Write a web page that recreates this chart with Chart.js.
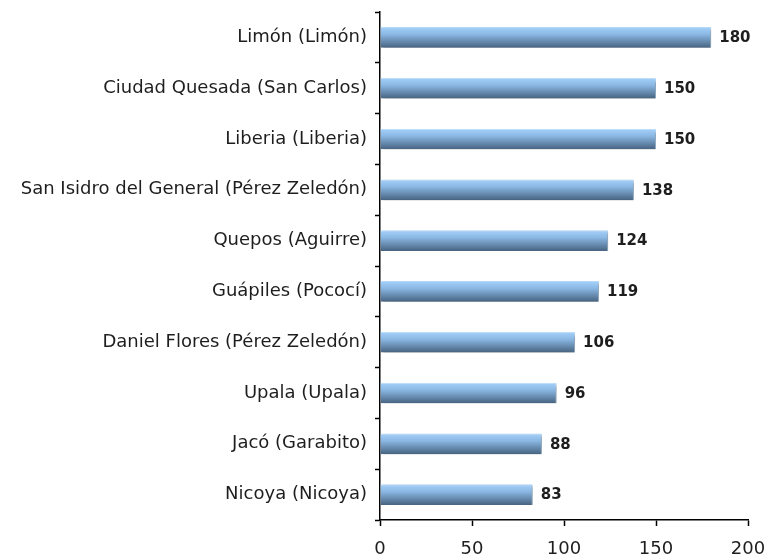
<!DOCTYPE html>
<html>
<head>
<meta charset="utf-8">
<script src="https://cdn.jsdelivr.net/npm/chart.js@4/dist/chart.umd.min.js"></script>
<style>
  html, body { margin: 0; padding: 0; background: #fff; }
  #wrap { width: 769px; height: 560px; }
</style>
</head>
<body>
<div id="wrap"><canvas id="chart"></canvas></div>
<script>
const places = [
  'Limón (Limón)',
  'Ciudad Quesada (San Carlos)',
  'Liberia (Liberia)',
  'San Isidro del General (Pérez Zeledón)',
  'Quepos (Aguirre)',
  'Guápiles (Pococí)',
  'Daniel Flores (Pérez Zeledón)',
  'Upala (Upala)',
  'Jacó (Garabito)',
  'Nicoya (Nicoya)'
];
const counts = [180, 150, 150, 138, 124, 119, 106, 96, 88, 83];
const xTicks = [0, 50, 100, 150, 200];

const FONT = '"DejaVu Sans", Verdana, sans-serif';

// vertical gradient per bar: light on top, dark at the bottom
function barGradient(context) {
  const chart = context.chart;
  const yScale = chart.scales.y;
  if (!chart.chartArea || !yScale) return '#6f9ccc';
  const el = context.element;
  const half = el && el.height ? el.height / 2 : 10.5;
  const cy = yScale.getPixelForValue(context.dataIndex);
  const g = chart.ctx.createLinearGradient(0, cy - half, 0, cy + half);
  g.addColorStop(0, '#a6d2fb');
  g.addColorStop(0.35, '#8bb8e4');
  g.addColorStop(1, '#46627f');
  return g;
}

const barShadow = {
  id: 'barShadow',
  beforeDatasetsDraw(chart) {
    const ctx = chart.ctx;
    ctx.save();
    ctx.shadowColor = 'rgba(0,0,0,0.35)';
    ctx.shadowBlur = 3;
    ctx.shadowOffsetX = 2;
    ctx.shadowOffsetY = 2;
  },
  afterDatasetsDraw(chart) {
    chart.ctx.restore();
  }
};

const valueLabels = {
  id: 'valueLabels',
  afterDraw(chart) {
    const ctx = chart.ctx;
    const meta = chart.getDatasetMeta(0);
    ctx.save();
    ctx.font = 'bold 15px ' + FONT;
    ctx.fillStyle = '#1e1e1e';
    ctx.textAlign = 'left';
    ctx.textBaseline = 'middle';
    meta.data.forEach((bar, i) => {
      ctx.fillText(String(counts[i]), bar.x + 8, bar.y + 1);
    });
    ctx.restore();
  }
};

new Chart(document.getElementById('chart'), {
  type: 'bar',
  data: {
    labels: places,
    datasets: [{
      data: counts,
      backgroundColor: barGradient,
      borderColor: '#b9dcfb',
      borderWidth: { top: 1, right: 1, bottom: 0, left: 0 },
      categoryPercentage: 0.51,
      barPercentage: 0.8
    }]
  },
  options: {
    indexAxis: 'y',
    responsive: true,
    maintainAspectRatio: false,
    animation: false,
    layout: { padding: { top: 12, right: 21, bottom: 0, left: 0 } },
    plugins: {
      legend: { display: false },
      tooltip: { enabled: false }
    },
    scales: {
      x: {
        min: 0,
        max: 200,
        afterBuildTicks(scale) {
          scale.ticks = xTicks.map(v => ({ value: v }));
        },
        afterFit(scale) {
          scale.height = 40;
          scale.paddingLeft = 0;
          scale.paddingRight = 0;
        },
        grid: { drawOnChartArea: false, tickLength: 6, tickColor: '#000', tickWidth: 1.5 },
        border: { color: '#000', width: 1.5 },
        ticks: { color: '#1e1e1e', padding: 13, font: { family: FONT, size: 18 } }
      },
      y: {
        afterFit(scale) {
          scale.width = 380;
          scale.paddingTop = 0;
          scale.paddingBottom = 0;
        },
        grid: { drawOnChartArea: false, offset: true, tickLength: 5, tickColor: '#000', tickWidth: 1.5 },
        border: { color: '#000', width: 1.5 },
        ticks: { color: '#1e1e1e', padding: 8, autoSkip: false, font: { family: FONT, size: 18 } }
      }
    }
  },
  plugins: [barShadow, valueLabels]
});
</script>
</body>
</html>
